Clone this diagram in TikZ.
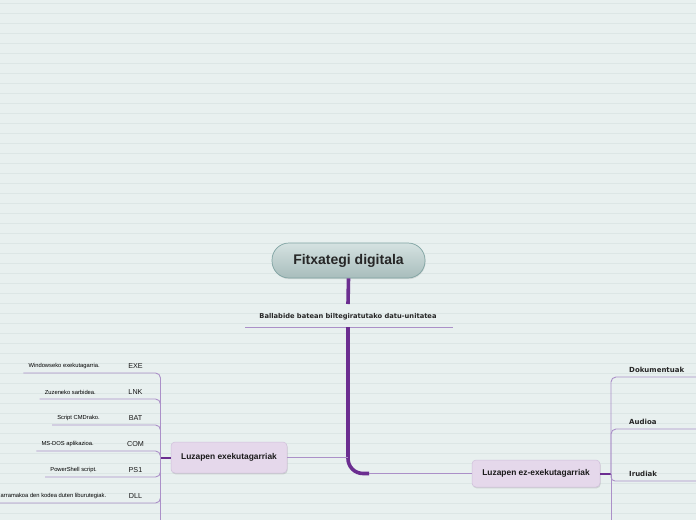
\documentclass[tikz,border=0pt]{standalone}
\usepackage{fontspec}
\setmainfont{Liberation Sans}
\newfontfamily\dvs{DejaVu Sans}
\usetikzlibrary{shadows}
\definecolor{bgc}{HTML}{E8F0EF}
\definecolor{gridc}{HTML}{DCE6E5}
\definecolor{darkp}{HTML}{6B2E90}
\definecolor{lightp}{HTML}{AB90C8}
\definecolor{nodefill}{HTML}{E5D8EB}
\definecolor{nodeborder}{HTML}{CFBFDA}
\definecolor{roottop}{HTML}{D5E2E1}
\definecolor{rootbot}{HTML}{A8BDBC}
\definecolor{rootborder}{HTML}{7FA3A2}
\tikzset{
  rootnode/.style={rounded corners=17pt, minimum width=153pt, minimum height=35pt,
    top color=roottop, bottom color=rootbot, draw=rootborder, line width=0.7pt,
    font=\bfseries\fontsize{14}{16}\selectfont, text=black!85,
    drop shadow={opacity=0.2, shadow xshift=0.5pt, shadow yshift=-1.2pt}},
  subnode/.style={rounded corners=4pt, minimum height=#1, fill=nodefill, draw=nodeborder,
    line width=0.5pt, font=\bfseries\fontsize{8.4}{10}\selectfont, text=black!90,
    drop shadow={opacity=0.25, shadow xshift=0.6pt, shadow yshift=-1.3pt}},
  thickline/.style={draw=darkp, line width=3.6pt},
  medline/.style={draw=darkp, line width=2pt},
  thinline/.style={draw=lightp, line width=0.9pt},
  lbl/.style={font=\fontsize{7.2}{8}\selectfont, inner sep=0pt, text=black!90},
  descr/.style={font=\fontsize{5.8}{7}\selectfont, inner sep=0pt, text=black},
  boldlbl/.style={font=\dvs\bfseries\fontsize{7}{8}\selectfont, inner sep=0pt, text=black!85},
}
\begin{document}
\begin{tikzpicture}[x=1pt,y=-1pt]
\fill[bgc] (0,0) rectangle (696,520);
\useasboundingbox (0,0) rectangle (696,520);
\clip (0,0) rectangle (696,520);
\foreach \k in {0,...,51} \draw[gridc, line width=0.6pt] (0,3.5+10*\k) -- (696,3.5+10*\k);

% root
\node[rootnode] (root) at (348.5,260.5) {Fitxategi digitala};
% description of root
\node[font=\dvs\bfseries\fontsize{6.7}{8}\selectfont, inner sep=0pt, text=black!85] (desc) at (348,317) {Ballabide batean biltegiratutako datu-unitatea};
\coordinate (desctop) at (348,304);
\coordinate (descbot) at (348,327);
\coordinate (dl) at (245,327);
\coordinate (dr) at (453,327);
\draw[thinline] (dl) -- (dr);
\draw[thickline] (root.south) -- (desctop);

% main children
\node[subnode=31pt, minimum width=116pt] (ln) at (229,457.5) {Luzapen exekutagarriak};
\node[subnode=27pt, minimum width=128pt] (rn) at (536,473.5) {Luzapen ez-exekutagarriak};
\coordinate (bend) at (369,473.5);
\draw[thickline, rounded corners=15pt] (descbot) |- (bend);
\draw[thinline] (bend) -- (rn.west);
\draw[thinline] (ln.east) -- (ln.east -| descbot);

% left bracket
\coordinate (lbr) at (160.5,457.5);
\coordinate (lbrbot) at (160.5,520);
\draw[medline] (ln.west) -- (lbr);
\draw[thinline] (lbr) -- (lbrbot);
\foreach \nm/\lab/\y/\xr/\txt in {
  a/EXE/366/100/{Windowseko exekutagarria.},
  b/LNK/392/96/{Zuzeneko sarbidea.},
  c/BAT/418/100/{Script CMDrako.},
  d/COM/444/94/{MS-DOS aplikazioa.},
  e/PS1/470/97/{PowerShell script.}} {
  \node[lbl] (lab\nm) at (135.5,\y) {\lab};
  \node[descr, anchor=east] (dsc\nm) at (\xr,\y) {\txt};
  \coordinate (und\nm) at ([xshift=-5pt]dsc\nm.west |- 0,\y+7);
  \draw[thinline, rounded corners=5pt] (lbr) |- (und\nm);
}
\node[lbl] (labf) at (135.5,496) {DLL};
\node[descr, anchor=west] (dscf) at (0.5,496) {arramakoa den kodea duten liburutegiak.};
\coordinate (undf) at (0,503);
\draw[thinline, rounded corners=5pt] (lbr) |- (undf);

% right bracket
\coordinate (rbr) at (611,473.5);
\coordinate (rbrbot) at (611,520);
\draw[medline] (rn.east) -- (rbr);
\draw[thinline] (rbr) -- (rbrbot);
\node[boldlbl, anchor=west] (dok) at (629,370) {Dokumentuak};
\node[boldlbl, anchor=west] (aud) at (629,421.5) {Audioa};
\node[boldlbl, anchor=west] (iru) at (629,474) {Irudiak};
\coordinate (udok) at (696,377);
\coordinate (uaud) at (696,429);
\coordinate (uiru) at (696,481);
\draw[thinline, rounded corners=5pt] (rbr) |- (udok);
\draw[thinline, rounded corners=5pt] (rbr) |- (uaud);
\draw[thinline, rounded corners=4pt] (rbr) |- (uiru);
\end{tikzpicture}
\end{document}
